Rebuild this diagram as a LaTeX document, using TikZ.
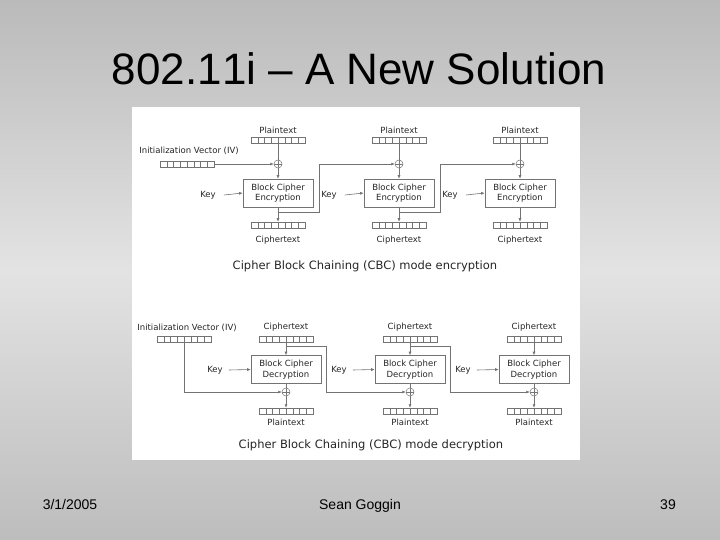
\documentclass[tikz,border=0pt]{standalone}
\usepackage{fontspec}
\setmainfont{Liberation Sans}
\newfontfamily\titlefont[Kerning=Off]{Liberation Sans}
\newfontfamily\dvfont{DejaVu Sans}
\usetikzlibrary{arrows.meta,calc}
\definecolor{bgtop}{gray}{0.73}
\definecolor{bgmid}{gray}{0.89}
\definecolor{bgbot}{gray}{0.74}
\definecolor{lncol}{gray}{0.45}
\definecolor{txcol}{gray}{0.15}
\tikzset{
  ln/.style={draw=lncol, line width=0.6pt},
  arr/.style={ln, -{Latex[length=3.5pt,width=3pt]}},
  lbl/.style={font=\dvfont\fontsize{8.5}{9}\selectfont, text=txcol, inner sep=0pt},
  captxt/.style={font=\dvfont\fontsize{11.5}{12}\selectfont, text=txcol, inner sep=0pt},
  blk/.style={draw=lncol, line width=0.6pt, minimum width=70pt, minimum height=28pt,
    inner sep=0pt, align=center, font=\dvfont\fontsize{8.5}{10.5}\selectfont, text=txcol},
  reg/.style={draw=lncol, line width=0.5pt, minimum width=54pt, minimum height=6pt,
    inner sep=0pt,
    path picture={\foreach \k in {1,...,7}{\draw[lncol, line width=0.45pt]
      ($(path picture bounding box.south west)!\k/8!(path picture bounding box.south east)$) -- ++(0pt,6pt);}}},
  xorn/.style={circle, draw=lncol, line width=0.5pt, minimum size=8pt, inner sep=0pt,
    path picture={\draw[lncol, line width=0.5pt]
      (path picture bounding box.north) -- (path picture bounding box.south)
      (path picture bounding box.west) -- (path picture bounding box.east);}},
  slidetxt/.style={text=black, inner sep=0pt, anchor=base},
}
\begin{document}
\begin{tikzpicture}[x=1pt,y=-1pt]
\useasboundingbox (0,0) rectangle (720,540);
\shade[top color=bgtop, bottom color=bgmid] (0,0) rectangle (720,270.5);
\shade[top color=bgmid, bottom color=bgbot] (0,270) rectangle (720,540);
\fill[white] (132,107) rectangle (580,460);

% title and footer
\node[slidetxt, font=\titlefont\fontsize{44}{50}\selectfont] (title) at (359,85) {802.11i – A New Solution};
\node[slidetxt, font=\fontsize{14}{16}\selectfont] (date) at (70,509) {3/1/2005};
\node[slidetxt, font=\fontsize{14}{16}\selectfont] (author) at (360,509) {Sean Goggin};
\node[slidetxt, font=\fontsize{14}{16}\selectfont] (page) at (668,509) {39};

% ---------- encryption ----------
\foreach \i/\cx in {1/278, 2/399, 3/520} {
  \node[lbl] (ep\i) at (\cx,130) {Plaintext};
  \node[reg] (epr\i) at (\cx,140) {};
  \node[xorn] (ex\i) at (\cx,164) {};
  \node[blk] (eb\i) at (\cx,193) {Block Cipher\\Encryption};
  \node[reg] (ecr\i) at (\cx,225) {};
  \node[lbl] (ec\i) at (\cx,240) {Ciphertext};
  \node[lbl] (ek\i) at (\cx-70,195) {Key};
  \draw[ln] (epr\i) -- (ex\i);
  \draw[arr] (ex\i) -- (eb\i);
  \draw[arr] (eb\i) -- (ecr\i);
  \draw[arr] ([xshift=8pt]ek\i.east) -- (eb\i.west);
}
\node[lbl] (eiv) at (189,151) {Initialization Vector (IV)};
\node[reg] (eivr) at (187,164) {};
\draw[arr] (eivr.east) -- (ex1.west);
\draw[arr] (eb1.south) ++(0pt,-5pt) -- ++(41pt,0pt) |- (ex2.west);
\draw[arr] (eb2.south) ++(0pt,-5pt) -- ++(41pt,0pt) |- (ex3.west);
\node[captxt] (ecap) at (365,266) {Cipher Block Chaining (CBC) mode encryption};

% ---------- decryption ----------
\foreach \i/\cx in {1/286, 2/410, 3/534} {
  \node[lbl] (dc\i) at (\cx,327) {Ciphertext};
  \node[reg] (dcr\i) at (\cx,339) {};
  \node[blk] (db\i) at (\cx,369.5) {Block Cipher\\Decryption};
  \node[xorn] (dx\i) at (\cx,392) {};
  \node[reg] (dpr\i) at (\cx,411) {};
  \node[lbl] (dp\i) at (\cx,422) {Plaintext};
  \node[lbl] (dk\i) at (\cx-71,370) {Key};
  \draw[arr] (dcr\i) -- (db\i);
  \draw[ln] (db\i) -- (dx\i);
  \draw[arr] (dx\i) -- (dpr\i);
  \draw[arr] ([xshift=6pt]dk\i.east) -- (db\i.west);
}
\node[lbl] (div) at (187,328) {Initialization Vector (IV)};
\node[reg] (divr) at (184,339) {};
\draw[arr] (divr.south) |- (dx1.west);
\draw[arr] (dcr1.south) ++(0pt,-4pt) -- ++(40pt,0pt) |- (dx2.west);
\draw[arr] (dcr2.south) ++(0pt,-4pt) -- ++(40pt,0pt) |- (dx3.west);
\node[captxt] (dcap) at (371,445) {Cipher Block Chaining (CBC) mode decryption};
\end{tikzpicture}
\end{document}
